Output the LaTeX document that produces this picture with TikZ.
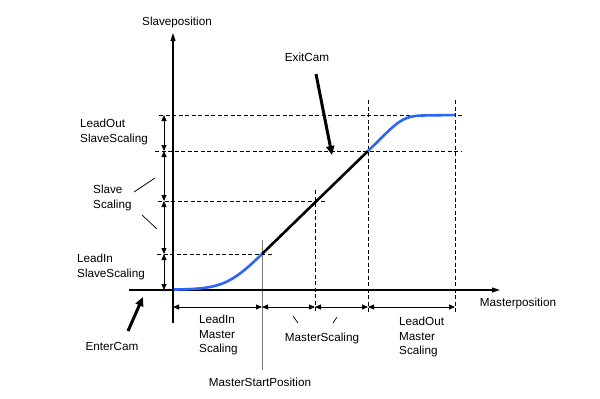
\documentclass[tikz,border=0pt]{standalone}
\usepackage{fontspec}
\setmainfont{Liberation Sans}
\usetikzlibrary{arrows.meta}
\definecolor{curveblue}{RGB}{45,100,250}
\definecolor{startgray}{RGB}{120,120,120}
\tikzset{
  lbl/.style={font=\fontsize{11.7}{14.5}\selectfont, inner sep=0pt, align=left},
  dimline/.style={line width=0.8pt, {Triangle[length=6pt,width=5pt]}-{Triangle[length=6pt,width=5pt]}},
  guide/.style={line width=0.9pt, dash pattern=on 4pt off 2.5pt},
  axisline/.style={line width=1.1pt, -{Triangle[length=8pt,width=5pt]}},
  bigarrow/.style={line width=3pt, -{Triangle[length=9pt,width=8pt]}},
  leader/.style={line width=0.7pt},
  camcurve/.style={line width=2.6pt, curveblue},
  linpart/.style={line width=2.6pt, black}
}
\begin{document}
\begin{tikzpicture}[x=1pt,y=-1pt]
\useasboundingbox (0,0) rectangle (600,399);
\fill[white] (0,0) rectangle (600,399);
% key coordinates
\coordinate (ybot) at (173,323);
\coordinate (ytop) at (173,33);
\coordinate (xleft) at (129,290);
\coordinate (xright) at (500,290);
\coordinate (origin) at (174,289.5);
\coordinate (pin) at (262,254);
\coordinate (pout) at (368,151);
\coordinate (pend) at (455,115);
% dashed guides
\draw[guide] (159,115) coordinate (g1a) -- (462,115) coordinate (g1b);
\draw[guide] (155,151) coordinate (g2a) -- (462,151) coordinate (g2b);
\draw[guide] (158,201) coordinate (g3a) -- (325,201) coordinate (g3b);
\draw[guide] (157,254) coordinate (g4a) -- (272,254) coordinate (g4b);
\draw[guide] (315,190) coordinate (g5a) -- (315,312) coordinate (g5b);
\draw[guide] (368,100) coordinate (g6a) -- (368,312) coordinate (g6b);
\draw[guide] (455,100) coordinate (g7a) -- (455,312) coordinate (g7b);
% master start position line
\draw[startgray, line width=1pt] (262,240) coordinate (msa) -- (262,370) coordinate (msb);
% axes
\draw[axisline] (ybot) -- (ytop);
\draw[axisline] (xleft) -- (xright);
% cam curve
\draw[camcurve] (origin) .. controls (220,289) and (230,285) .. (pin);
\draw[linpart] (pin) -- (pout);
\draw[camcurve] (pout) .. controls (395,125) and (400,116) .. (422,115.5) -- (pend);
% vertical dimension arrows
\coordinate (v0) at (164,115);
\coordinate (v1) at (164,151);
\coordinate (v2) at (164,201);
\coordinate (v3) at (164,254);
\coordinate (v4) at (164,290);
\draw[dimline] (v0) -- (v1);
\draw[dimline] (v1) -- (v2);
\draw[dimline] (v2) -- (v3);
\draw[dimline] (v3) -- (v4);
% horizontal dimension arrows
\coordinate (h0) at (173,307);
\coordinate (h1) at (262,307);
\coordinate (h2) at (315,307);
\coordinate (h3) at (368,307);
\coordinate (h4) at (455,307);
\draw[dimline] (h0) -- (h1);
\draw[dimline] (h1) -- (h2);
\draw[dimline] (h2) -- (h3);
\draw[dimline] (h3) -- (h4);
% labels
\node[lbl] (slavepos) at (177,22) {Slaveposition};
\node[lbl] (masterpos) at (518,303) {Masterposition};
\node[lbl, anchor=west] (loss) at (80,132) {LeadOut\\SlaveScaling};
\node[lbl, anchor=west] (ss) at (93,198) {Slave\\Scaling};
\node[lbl, anchor=west] (liss) at (77,267) {LeadIn\\SlaveScaling};
\node[lbl, anchor=west] (lims) at (199,335) {LeadIn\\Master\\Scaling};
\node[lbl] (ms) at (322,338) {MasterScaling};
\node[lbl, anchor=west] (loms) at (399,337) {LeadOut\\Master\\Scaling};
\node[lbl] (msp) at (260,382) {MasterStartPosition};
\node[lbl] (enter) at (112,346) {EnterCam};
\node[lbl] (exit) at (307,57) {ExitCam};
% leader lines
\coordinate (l1a) at (134,192); \coordinate (l1b) at (155,178);
\coordinate (l2a) at (142,215); \coordinate (l2b) at (157,229);
\coordinate (l3a) at (293,316); \coordinate (l3b) at (298,323);
\coordinate (l4a) at (337,317); \coordinate (l4b) at (333,323);
\draw[leader] (l1a) -- (l1b);
\draw[leader] (l2a) -- (l2b);
\draw[leader] (l3a) -- (l3b);
\draw[leader] (l4a) -- (l4b);
% big arrows
\coordinate (enterA) at (128,331);
\coordinate (enterB) at (143,297);
\coordinate (exitA) at (316,74);
\coordinate (exitB) at (332,155);
\draw[bigarrow] (enterA) -- (enterB);
\draw[bigarrow] (exitA) -- (exitB);
\end{tikzpicture}
\end{document}
